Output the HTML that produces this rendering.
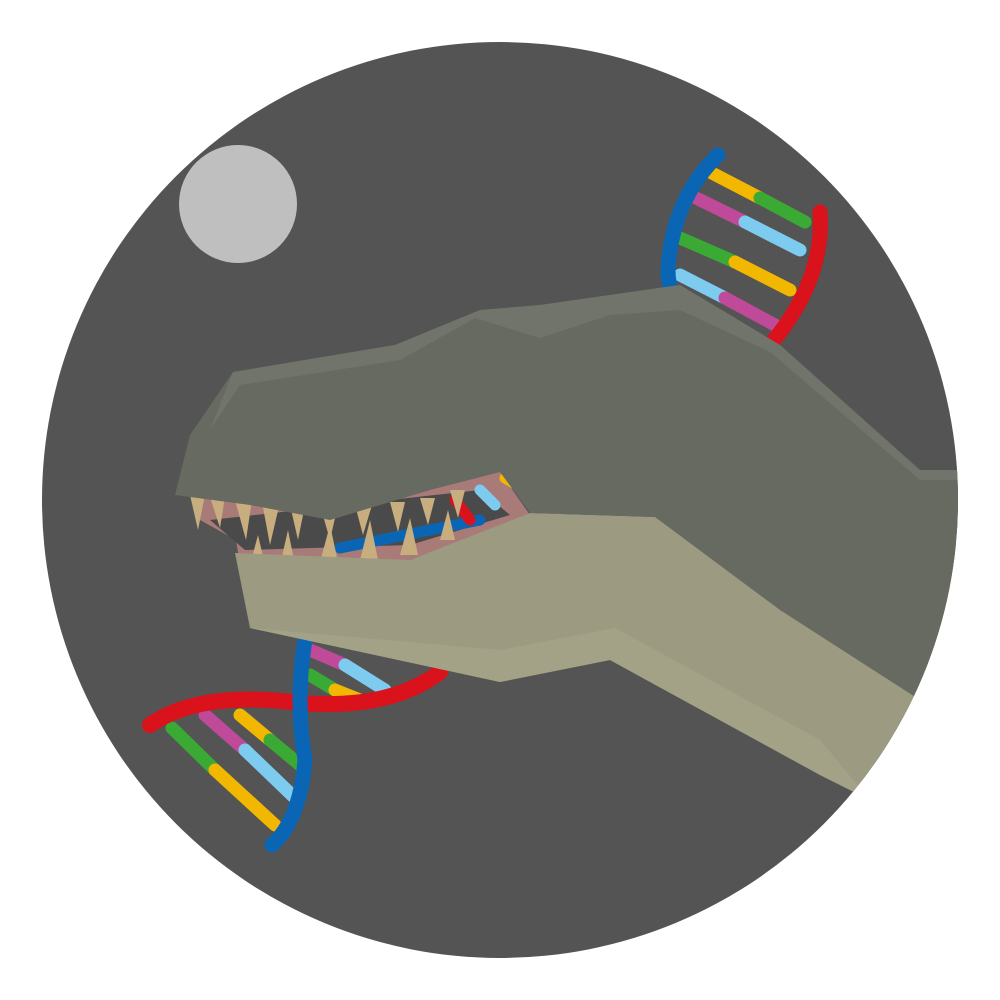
<!DOCTYPE html>
<html><head><meta charset="utf-8"><style>
html,body{margin:0;padding:0;background:#fff;width:1000px;height:1000px;overflow:hidden}
</style></head><body>
<svg width="1000" height="1000" viewBox="0 0 1000 1000">
<defs><clipPath id="c"><circle cx="500" cy="500" r="458"/></clipPath></defs>
<circle cx="500" cy="500" r="458" fill="#545454"/>
<circle cx="238" cy="204" r="59" fill="#bfbfbf"/>
<g clip-path="url(#c)">
<!-- top right DNA -->
<g stroke-linecap="round">
<g stroke-width="13">
<line x1="710" y1="172" x2="760" y2="198" stroke="#f2b700"/><line x1="760" y1="198" x2="805" y2="222" stroke="#3aaa35"/>
<line x1="690" y1="195" x2="745" y2="222" stroke="#c04a9a"/><line x1="745" y1="222" x2="800" y2="250" stroke="#7ecbf0"/>
<line x1="680" y1="238" x2="735" y2="262" stroke="#3aaa35"/><line x1="735" y1="262" x2="790" y2="290" stroke="#f2b700"/>
<line x1="680" y1="275" x2="725" y2="298" stroke="#7ecbf0"/><line x1="725" y1="298" x2="775" y2="325" stroke="#c04a9a"/>
</g>
<path d="M718 155 Q672 200 668 270 Q668 300 690 315" fill="none" stroke="#0a66b5" stroke-width="15"/>
<path d="M820 212 Q825 280 770 345" fill="none" stroke="#d9121b" stroke-width="15"/>
</g>
<!-- bottom left DNA -->
<g stroke-linecap="round">
<g stroke-width="13">
<line x1="172" y1="728" x2="215" y2="770" stroke="#3aaa35"/><line x1="215" y1="770" x2="275" y2="825" stroke="#f2b700"/>
<line x1="205" y1="715" x2="245" y2="750" stroke="#c04a9a"/><line x1="245" y1="750" x2="295" y2="798" stroke="#7ecbf0"/>
<line x1="240" y1="715" x2="270" y2="740" stroke="#f2b700"/><line x1="270" y1="740" x2="300" y2="765" stroke="#3aaa35"/>
<line x1="310" y1="650" x2="345" y2="665" stroke="#c04a9a"/><line x1="345" y1="665" x2="385" y2="690" stroke="#7ecbf0"/>
<line x1="310" y1="675" x2="335" y2="690" stroke="#3aaa35"/><line x1="335" y1="690" x2="360" y2="700" stroke="#f2b700"/>
</g>
<path d="M150 725 Q200 690 300 703 Q390 710 440 672" fill="none" stroke="#d9121b" stroke-width="16"/>
<path d="M305 640 Q295 700 305 760 Q300 820 272 845" fill="none" stroke="#0a66b5" stroke-width="15"/>
</g>
<!-- mouth interior -->
<polygon points="190,495 500,472 530,515 410,560 240,565 236,540 200,520" fill="#a87a78"/>
<polygon points="210,520 480,490 510,515 410,545 245,550" fill="#4a4a4a"/>
<g stroke-width="11" stroke-linecap="round">
<line x1="505" y1="478" x2="560" y2="510" stroke="#f2b700"/>
<line x1="340" y1="548" x2="480" y2="520" stroke="#0a66b5"/>
<line x1="455" y1="500" x2="470" y2="520" stroke="#d9121b"/>
<line x1="480" y1="490" x2="495" y2="505" stroke="#7ecbf0"/>
</g>
<g fill="#c8ad7f">
<polygon points="190,495 205,495 198,530"/><polygon points="210,497 225,497 220,528"/>
<polygon points="235,500 252,500 246,540"/><polygon points="262,502 280,502 270,545"/>
<polygon points="290,505 305,505 298,540"/><polygon points="320,505 338,505 330,540"/>
<polygon points="355,505 372,505 363,535"/><polygon points="390,502 405,502 398,532"/>
<polygon points="420,498 435,498 428,525"/><polygon points="450,490 465,490 458,518"/>
<polygon points="280,565 295,565 288,530"/><polygon points="320,562 338,562 330,525"/>
<polygon points="360,560 378,560 370,520"/><polygon points="400,555 418,555 410,518"/>
<polygon points="250,565 265,565 258,535"/><polygon points="440,540 455,540 448,510"/>
</g>
<!-- lower jaw -->
<polygon points="235,553 410,560 530,513 655,517 780,600 920,690 870,800 820,775 610,660 500,682 250,628" fill="#9c9a80"/>
<polygon points="250,628 500,650 615,628 820,740 870,800 820,775 610,660 500,682" fill="#a4a286"/>
<!-- upper head -->
<polygon points="175,495 190,435 233,372 395,345 480,310 540,305 680,285 780,345 920,470 1000,470 1000,700 920,700 780,610 655,517 530,513 500,472 430,490 330,520 250,505" fill="#666a60"/>
<polygon points="233,372 395,345 480,310 540,305 680,285 780,345 920,470 958,470 958,480 920,480 770,352 680,310 610,315 540,338 475,318 400,360 240,385 210,430" fill="#70746a"/>
</g>
</svg>
</body></html>
